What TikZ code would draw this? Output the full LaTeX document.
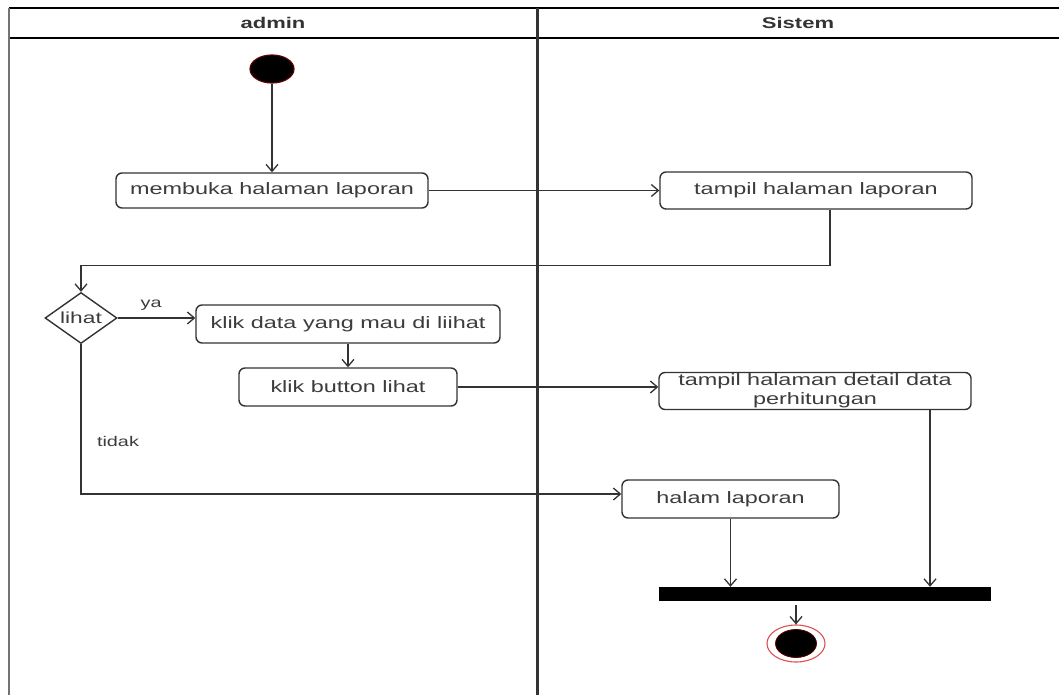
\documentclass[tikz,border=0pt]{standalone}
\usepackage{fontspec}
\setmainfont{Liberation Sans}[FakeStretch=1.42]
\usetikzlibrary{arrows.meta,shapes.geometric,calc}
\definecolor{linegray}{HTML}{333333}
\definecolor{textgray}{HTML}{3C3C3C}
\definecolor{startred}{HTML}{5A0000}
\definecolor{endred}{HTML}{E05050}
\begin{document}
\begin{tikzpicture}[x=1pt,y=-1pt,
  action/.style={draw=linegray,line width=1.4pt,rounded corners=6pt,rectangle,
    fill=white,text=textgray,inner sep=2pt,align=center,
    font=\fontsize{16.5}{18}\selectfont},
  flow/.style={draw=linegray,line width=1.3pt,-{Straight Barb[length=7pt,width=12pt,line width=1.3pt]}},
  lbl/.style={text=textgray,font=\fontsize{14}{16}\selectfont,inner sep=0pt},
  lanehead/.style={text=black!80,font=\bfseries\fontsize{15.5}{17}\selectfont,inner sep=0pt}]
\useasboundingbox (0,0) rectangle (1059,695);
\fill[white] (0,0) rectangle (1059,695);

% swimlane frame
\draw[black,line width=1.8pt] (9,8) -- (1059,8);
\draw[black,line width=1.8pt] (9,38) -- (1059,38);
\draw[black!55,line width=2pt] (9,8) -- (9,695);
\draw[linegray,line width=3pt] (537,8) -- (537,695);
\node[lanehead] (laneA) at (273,23) {admin};
\node[lanehead] (laneS) at (798,23) {Sistem};

% initial node
\node[ellipse,fill=black,draw=startred,line width=1.2pt,minimum width=44pt,
  minimum height=28pt,inner sep=0pt] (start) at (272,69) {};

% actions
\node[action,minimum width=312pt,minimum height=35pt] (A) at (272,190.5) {membuka halaman laporan};
\node[action,minimum width=312pt,minimum height=37pt] (B) at (816,190.5) {tampil halaman laporan};
\node[diamond,draw=linegray,line width=1.4pt,fill=white,minimum width=72pt,
  minimum height=51pt,inner sep=0pt] (dec) at (81,318) {};
\node[text=textgray,font=\fontsize{16}{18}\selectfont,inner sep=0pt] (decText) at (dec) {lihat};
\node[action,minimum width=304pt,minimum height=38pt] (C) at (348,324) {klik data yang mau di liihat};
\node[action,minimum width=218pt,minimum height=38pt] (D) at (348,387) {klik button lihat};
\node[action,minimum width=312pt,minimum height=37pt,inner sep=0pt,
  font=\fontsize{16.5}{19}\selectfont] (E) at (815,391)
  {tampil halaman detail data\\perhitungan};
\node[action,minimum width=217pt,minimum height=38pt] (F) at (730.5,499) {halam laporan};

% join bar
\node[rectangle,fill=black,minimum width=332pt,minimum height=14pt,inner sep=0pt] (bar) at (825,594) {};

% final node
\node[ellipse,draw=endred,line width=1.1pt,fill=white,minimum width=58pt,
  minimum height=37pt,inner sep=0pt] (end) at (796,643.5) {};
\node[ellipse,fill=black,draw=startred,line width=0.8pt,minimum width=41pt,
  minimum height=28pt,inner sep=0pt] (endCore) at (end) {};

% flows
\draw[flow] (start.south) -- (A.north);
\draw[flow] (A.east) -- (B.west |- A.east);
\coordinate (bOut) at ([xshift=14pt]B.south);
\draw[flow] (bOut) -- ++(0,56) -| (dec.north);
\draw[flow] (dec.east) -- (C.west |- dec.east)
  node[lbl,pos=0.43,above=7pt] (ya) {ya};
\draw[flow] (C.south) -- (D.north);
\draw[flow] (D.east) -- (E.west |- D.east);
\coordinate (fIn) at ([yshift=5pt]F.west);
\draw[flow] (dec.south) |- (fIn);
\node[lbl] (tidak) at (118,441) {tidak};
\draw[flow] (F.south) -- (F.south |- bar.north);
\coordinate (eOut) at ([xshift=115pt]E.south);
\draw[flow] (eOut) -- (eOut |- bar.north);
\coordinate (barOut) at ([yshift=-4pt]end.north |- bar.south);
\draw[flow] (barOut) -- (end.north);
\end{tikzpicture}
\end{document}
